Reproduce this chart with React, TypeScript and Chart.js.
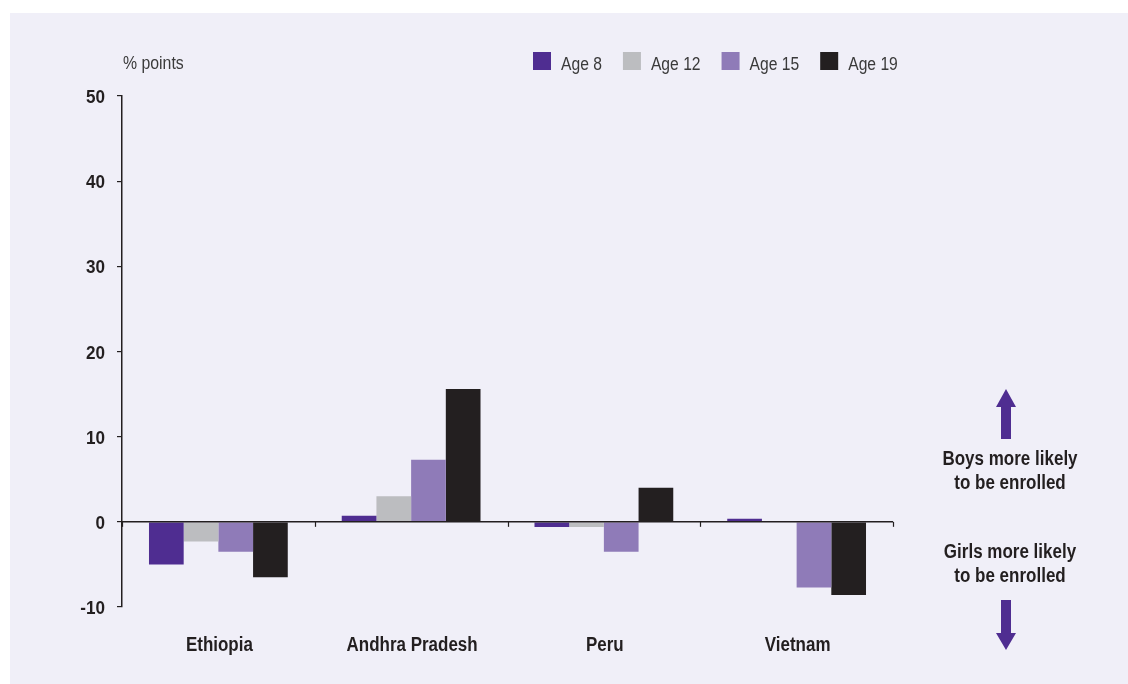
import React, { useEffect, useRef } from "react";
import { Chart, registerables } from "chart.js";

Chart.register(...registerables);

const categories = ["Ethiopia", "Andhra Pradesh", "Peru", "Vietnam"];
const seriesLabels = ["Age 8", "Age 12", "Age 15", "Age 19"];
const age8 = [-5.0, 0.7, -0.6, 0.35];
const age12 = [-2.3, 3.0, -0.6, 0];
const age15 = [-3.5, 7.3, -3.5, -7.7];
const age19 = [-6.5, 15.6, 4.0, -8.6];
const seriesColors = ["#4f2d91", "#bcbdc0", "#8f7bb8", "#231f20"];
const yTicks = [-10, 0, 10, 20, 30, 40, 50];
const unitLabel = "% points";
const boysNote = ["Boys more likely", "to be enrolled"];
const girlsNote = ["Girls more likely", "to be enrolled"];

const FONT = "'Liberation Sans', Arial, sans-serif";
const INK = "#231f20";
const GREY_TEXT = "#3a3a3a";

function drawText(ctx: any, text: string, x: number, y: number, font: string, color: string, align: string, sx: number) {
  ctx.save();
  ctx.font = font;
  ctx.fillStyle = color;
  ctx.textAlign = align;
  ctx.textBaseline = "alphabetic";
  ctx.translate(x, y);
  ctx.scale(sx, 1);
  ctx.fillText(text, 0, 0);
  ctx.restore();
}

const decorPlugin = {
  id: "decor",
  afterDatasetsDraw(chart: any) {
    const ctx = chart.ctx;
    const y = chart.scales.y;
    const area = chart.chartArea;
    ctx.save();
    const y0 = y.getPixelForValue(0);
    ctx.strokeStyle = INK;
    ctx.lineWidth = 1.5;
    ctx.beginPath();
    ctx.moveTo(area.left, y0);
    ctx.lineTo(area.right, y0);
    ctx.stroke();
    const n = categories.length;
    const catW = (area.right - area.left) / n;
    ctx.lineWidth = 1.2;
    for (let i = 0; i <= n; i++) {
      const px = Math.round(area.left + i * catW) + 0.5;
      ctx.beginPath();
      ctx.moveTo(px, y0);
      ctx.lineTo(px, y0 + 5);
      ctx.stroke();
    }
    ctx.restore();
  },
  afterDraw(chart: any) {
    const ctx = chart.ctx;
    const xs = chart.scales.x;
    const ys = chart.scales.y;

    // y tick labels
    yTicks.forEach((v) => {
      const py = ys.getPixelForValue(v);
      drawText(ctx, String(v), ys.right - 17, py + 7, `bold 19px ${FONT}`, INK, "right", 0.9);
    });
    // category labels
    categories.forEach((c, i) => {
      const px = xs.getPixelForValue(i);
      drawText(ctx, c, px + 1, 638, `bold 19.5px ${FONT}`, INK, "center", 0.87);
    });

    // unit label
    drawText(ctx, unitLabel, 113, 56, `18px ${FONT}`, GREY_TEXT, "left", 0.88);

    // legend
    let lx = 523;
    chart.data.datasets.forEach((ds: any) => {
      ctx.save();
      ctx.fillStyle = ds.backgroundColor;
      ctx.fillRect(lx, 39, 18, 18);
      ctx.font = `18px ${FONT}`;
      const w = ctx.measureText(ds.label).width * 0.87;
      ctx.restore();
      drawText(ctx, ds.label, lx + 28, 56.5, `18px ${FONT}`, GREY_TEXT, "left", 0.87);
      lx += 28 + w + 21;
    });

    // annotations
    const cx = 1000;
    const f = `bold 20px ${FONT}`;
    drawText(ctx, boysNote[0], cx, 452, f, INK, "center", 0.85);
    drawText(ctx, boysNote[1], cx, 476, f, INK, "center", 0.85);
    drawText(ctx, girlsNote[0], cx, 545, f, INK, "center", 0.85);
    drawText(ctx, girlsNote[1], cx, 569, f, INK, "center", 0.85);

    // arrows
    ctx.save();
    const ax = 996;
    ctx.fillStyle = "#4f2d91";
    ctx.beginPath();
    ctx.moveTo(ax, 376);
    ctx.lineTo(ax + 10, 394);
    ctx.lineTo(ax + 5, 394);
    ctx.lineTo(ax + 5, 426);
    ctx.lineTo(ax - 5, 426);
    ctx.lineTo(ax - 5, 394);
    ctx.lineTo(ax - 10, 394);
    ctx.closePath();
    ctx.fill();
    ctx.beginPath();
    ctx.moveTo(ax, 637);
    ctx.lineTo(ax + 10, 620);
    ctx.lineTo(ax + 5, 620);
    ctx.lineTo(ax + 5, 587);
    ctx.lineTo(ax - 5, 587);
    ctx.lineTo(ax - 5, 620);
    ctx.lineTo(ax - 10, 620);
    ctx.closePath();
    ctx.fill();
    ctx.restore();
  },
};

export default function App() {
  const ref = useRef<HTMLCanvasElement | null>(null);
  useEffect(() => {
    if (!ref.current) return;
    const series = [age8, age12, age15, age19];
    const chart = new Chart(ref.current, {
      type: "bar",
      data: {
        labels: categories,
        datasets: series.map((d, i) => ({
          label: seriesLabels[i],
          data: d,
          backgroundColor: seriesColors[i],
          borderWidth: 0,
          categoryPercentage: 0.72,
          barPercentage: 1,
        })),
      },
      options: {
        animation: false,
        responsive: false,
        maintainAspectRatio: false,
        layout: { padding: { left: 0, right: 235, top: 83, bottom: 0 } },
        plugins: { legend: { display: false }, tooltip: { enabled: false } },
        scales: {
          x: {
            grid: { display: false, drawTicks: false },
            border: { display: false },
            ticks: { display: false },
            afterFit(scale: any) {
              scale.height = 77;
            },
          },
          y: {
            min: -10,
            max: 50,
            afterBuildTicks(scale: any) {
              scale.ticks = yTicks.map((v) => ({ value: v }));
            },
            grid: {
              drawOnChartArea: false,
              color: INK,
              tickLength: 5,
              lineWidth: 1.2,
            },
            border: { display: true, color: INK, width: 1.5 },
            ticks: { display: false },
            afterFit(scale: any) {
              scale.width = 112;
            },
          },
        },
      },
      plugins: [decorPlugin],
    } as any);
    return () => chart.destroy();
  }, []);
  return (
    <div style={{ position: "fixed", left: 0, top: 0, width: 1128, height: 684, background: "#ffffff" }}>
      <div style={{ position: "absolute", left: 10, top: 13, width: 1118, height: 671, background: "#f0eff8" }}>
        <canvas ref={ref} width={1118} height={671} style={{ display: "block" }} />
      </div>
    </div>
  );
}
